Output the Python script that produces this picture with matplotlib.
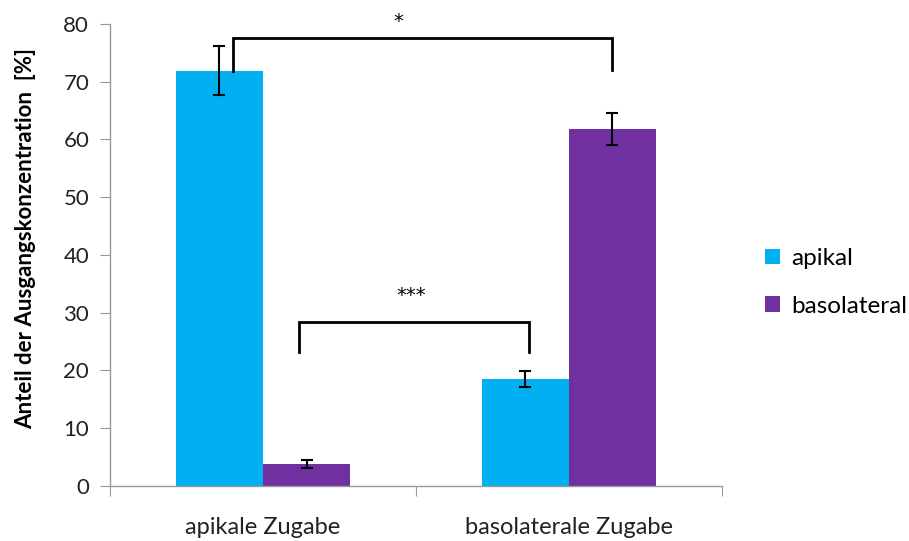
import matplotlib
matplotlib.use("Agg")
import matplotlib.pyplot as plt
from matplotlib.patches import Patch
import numpy as np

plt.rcParams['font.family'] = ['Lato', 'DejaVu Sans']

categories = ["apikale Zugabe", "basolaterale Zugabe"]
series = ["apikal", "basolateral"]
apikal_vals = [71.9, 18.5]
apikal_err = [4.2, 1.4]
baso_vals = [3.8, 61.8]
baso_err = [0.7, 2.8]
colors = ["#00B0F0", "#7030A0"]

fig = plt.figure(figsize=(9.09, 5.41), dpi=100)
ax = fig.add_axes([0.121, 0.1017, 0.673, 0.854])

centers = np.arange(len(categories)) + 0.5
w = 0.285
err_kw = dict(ecolor="black", capsize=4.5, elinewidth=1.5, capthick=1.5)
ax.bar(centers - w / 2, apikal_vals, w, yerr=apikal_err, color=colors[0],
       error_kw=err_kw, label=series[0])
ax.bar(centers + w / 2, baso_vals, w, yerr=baso_err, color=colors[1],
       error_kw=err_kw, label=series[1])

ax.set_xlim(0, 2)
ax.set_ylim(0, 80)
ax.set_yticks(np.arange(0, 81, 10))
ax.set_xticks([0, 1, 2])
ax.set_xticklabels([])
ax.set_xticks(centers, minor=True)
ax.set_xticklabels(categories, minor=True, fontsize=17, color="#222222")
ax.tick_params(axis="x", which="minor", length=0, pad=22)
ax.tick_params(axis="x", which="major", length=7, color="#999999", direction="out")
ax.tick_params(axis="y", length=7, color="#999999", labelsize=16,
               labelcolor="#222222", pad=8)
for s in ("top", "right"):
    ax.spines[s].set_visible(False)
for s in ("left", "bottom"):
    ax.spines[s].set_color("#999999")
    ax.spines[s].set_linewidth(1.0)

ax.set_ylabel("Anteil der Ausgangskonzentration  [%]", fontsize=16,
              fontweight="bold")
ax.yaxis.set_label_coords(-0.121, 0.535)

# significance brackets
def bracket(x0, x1, y, y0, y1, text, tx, ty):
    ax.plot([x0, x0, x1, x1], [y0, y, y, y1], color="black", lw=2,
            solid_joinstyle="miter", clip_on=False)
    ax.text(tx, ty, text, ha="center", va="center", fontsize=14,
            family="DejaVu Sans", clip_on=False)

bracket(0.402, 1.641, 77.6, 71.9, 72.0, "*", 0.944, 80.5)
bracket(0.618, 1.369, 28.4, 23.2, 23.2, "***", 0.984, 33.0)

handles = [Patch(facecolor=c) for c in colors]
fig.legend(handles, series, loc="center left", bbox_to_anchor=(0.842, 0.478),
           frameon=False, fontsize=17.5, handlelength=0.6, handleheight=0.6,
           handletextpad=0.45, labelspacing=1.1, borderpad=0, borderaxespad=0)

fig.savefig("out.png", dpi=100)
